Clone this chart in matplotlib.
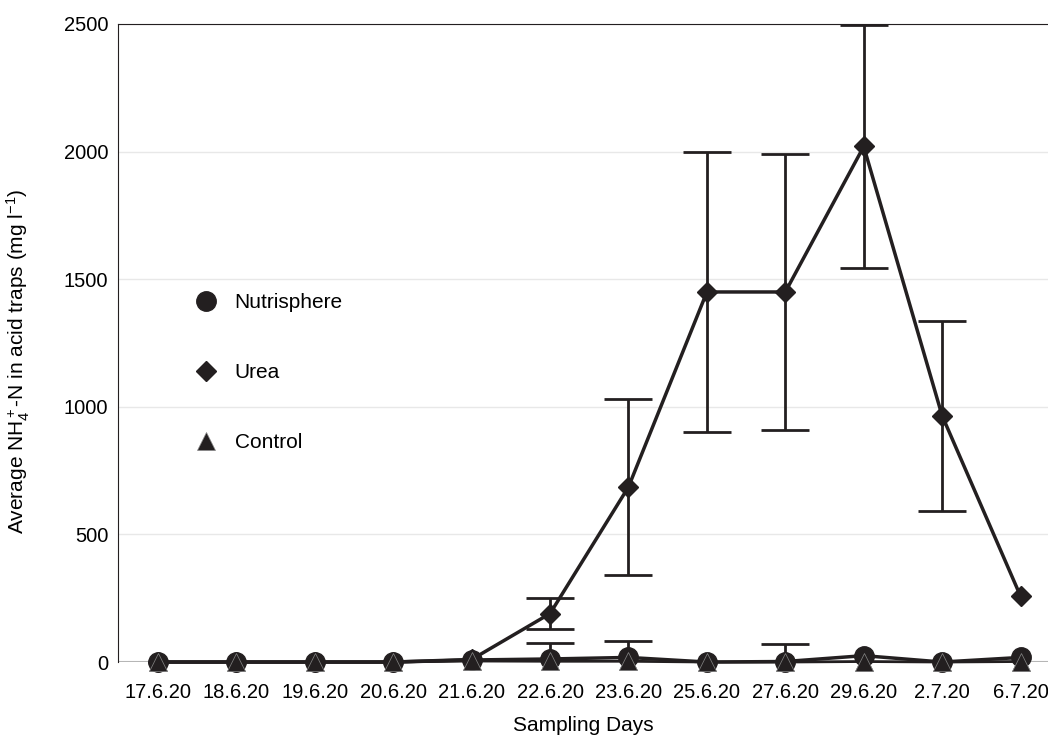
import numpy as np
import matplotlib
import matplotlib.pyplot as plt

plt.rcParams['font.family'] = ['Liberation Sans', 'DejaVu Sans']
plt.rcParams['mathtext.fontset'] = 'custom'
plt.rcParams['mathtext.rm'] = 'Liberation Sans'
plt.rcParams['mathtext.it'] = 'Liberation Sans'

days = ['17.6.20', '18.6.20', '19.6.20', '20.6.20', '21.6.20', '22.6.20',
        '23.6.20', '25.6.20', '27.6.20', '29.6.20', '2.7.20', '6.7.20']

urea = [0, 0, 0, 0, 10, 190, 686, 1450, 1450, 2020, 965, 258]
urea_err = [0, 0, 0, 0, 0, 60, 345, 550, 540, 475, 372, 0]

nutrisphere = [0, 0, 0, 0, 8, 12, 18, 0, 2, 25, 0, 18]
nutrisphere_err = [0, 0, 0, 0, 0, 62, 65, 0, 70, 0, 0, 0]

control = [0, 0, 0, 0, 4, 3, 3, 0, 0, 2, 0, 2]

x = np.arange(len(days))

fig = plt.figure(figsize=(10.48, 7.36), dpi=100)
ax = fig.add_axes([0.1126, 0.1005, 0.8874, 0.8669])

ax.grid(axis='y', color='#e8e8e8', linewidth=1)
ax.axhline(0, color='#aaaaaa', linewidth=1.5, zorder=1)

# error bars only where present
def draw_err(vals, errs) :
    for xi, v, e in zip(x, vals, errs) :
        if e > 0 :
            ax.errorbar(xi, v, yerr=e, fmt='none', ecolor='#231f20',
                        elinewidth=2, capsize=17, capthick=2, zorder=2)

draw_err(urea, urea_err)
draw_err(nutrisphere, nutrisphere_err)

ax.plot(x, control, color='#231f20', linewidth=2, marker='^', markersize=13,
        markeredgecolor='#888888', markeredgewidth=0.5, label='Control',
        zorder=3, clip_on=False)
ax.plot(x, nutrisphere, color='#231f20', linewidth=2.5, marker='o', markersize=14,
        label='Nutrisphere', zorder=4, clip_on=False)
ax.plot(x, urea, color='#231f20', linewidth=2.5, marker='D', markersize=10,
        label='Urea', zorder=5, clip_on=False)
# control triangles drawn on top of circles
ax.plot(x, control, linestyle='none', marker='^', markersize=13, color='#231f20',
        markeredgecolor='#888888', markeredgewidth=0.5, zorder=6, clip_on=False)

ax.set_xlim(-0.51, 11.35)
ax.set_ylim(0, 2500)
ax.set_yticks([0, 500, 1000, 1500, 2000, 2500])
ax.set_xticks(x)
ax.set_xticklabels(days)
ax.tick_params(axis='x', length=0, labelsize=14.5, pad=15)
ax.tick_params(axis='y', length=0, labelsize=14.5, pad=7)

for side in ['right', 'bottom'] :
    ax.spines[side].set_visible(False)
ax.spines['left'].set_color('#231f20')
ax.spines['top'].set_color('#231f20')

ax.set_xlabel('Sampling Days', fontsize=15, labelpad=10)
ax.set_ylabel('Average NH$_4^+$-N in acid traps (mg l$^{-1}$)', fontsize=15)
ax.yaxis.set_label_coords(-0.092, 0.472)

handles, labels = ax.get_legend_handles_labels()
order = [labels.index('Nutrisphere'), labels.index('Urea'), labels.index('Control')]
leg = ax.legend([handles[i] for i in order], [labels[i] for i in order],
                loc='upper left', bbox_to_anchor=(0.074, 0.608), frameon=False,
                handlelength=0, handletextpad=1.4, labelspacing=2.45, fontsize=15,
                markerscale=1.0)

fig.savefig('out.png', dpi=100)
